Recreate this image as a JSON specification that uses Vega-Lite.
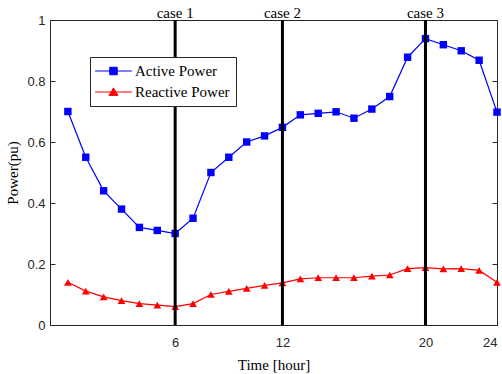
{
  "$schema": "https://vega.github.io/schema/vega-lite/v6.json",
  "autosize": "none",
  "width": 447,
  "height": 305,
  "padding": {"left": 50, "top": 20, "right": 5, "bottom": 49},
  "background": "white",
  "config": {
    "view": {"stroke": "#262626", "strokeWidth": 1},
    "axis": {
      "grid": false,
      "domainColor": "#262626",
      "tickColor": "#262626",
      "labelFont": "Liberation Sans, Arial, sans-serif",
      "labelFontSize": 13,
      "labelColor": "#262626",
      "titleFont": "Liberation Serif, Times New Roman, serif",
      "titleFontSize": 15,
      "titleFontWeight": "normal",
      "titleColor": "black"
    }
  },
  "datasets": {
    "power": [
      {"hour": 0, "series": "Active Power", "value": 0.70},
      {"hour": 1, "series": "Active Power", "value": 0.55},
      {"hour": 2, "series": "Active Power", "value": 0.44},
      {"hour": 3, "series": "Active Power", "value": 0.38},
      {"hour": 4, "series": "Active Power", "value": 0.32},
      {"hour": 5, "series": "Active Power", "value": 0.31},
      {"hour": 6, "series": "Active Power", "value": 0.30},
      {"hour": 7, "series": "Active Power", "value": 0.35},
      {"hour": 8, "series": "Active Power", "value": 0.50},
      {"hour": 9, "series": "Active Power", "value": 0.55},
      {"hour": 10, "series": "Active Power", "value": 0.60},
      {"hour": 11, "series": "Active Power", "value": 0.62},
      {"hour": 12, "series": "Active Power", "value": 0.648},
      {"hour": 13, "series": "Active Power", "value": 0.689},
      {"hour": 14, "series": "Active Power", "value": 0.694},
      {"hour": 15, "series": "Active Power", "value": 0.699},
      {"hour": 16, "series": "Active Power", "value": 0.678},
      {"hour": 17, "series": "Active Power", "value": 0.708},
      {"hour": 18, "series": "Active Power", "value": 0.749},
      {"hour": 19, "series": "Active Power", "value": 0.878},
      {"hour": 20, "series": "Active Power", "value": 0.939},
      {"hour": 21, "series": "Active Power", "value": 0.919},
      {"hour": 22, "series": "Active Power", "value": 0.899},
      {"hour": 23, "series": "Active Power", "value": 0.868},
      {"hour": 24, "series": "Active Power", "value": 0.698},
      {"hour": 0, "series": "Reactive Power", "value": 0.14},
      {"hour": 1, "series": "Reactive Power", "value": 0.111},
      {"hour": 2, "series": "Reactive Power", "value": 0.092},
      {"hour": 3, "series": "Reactive Power", "value": 0.08},
      {"hour": 4, "series": "Reactive Power", "value": 0.07},
      {"hour": 5, "series": "Reactive Power", "value": 0.065},
      {"hour": 6, "series": "Reactive Power", "value": 0.06},
      {"hour": 7, "series": "Reactive Power", "value": 0.07},
      {"hour": 8, "series": "Reactive Power", "value": 0.10},
      {"hour": 9, "series": "Reactive Power", "value": 0.11},
      {"hour": 10, "series": "Reactive Power", "value": 0.12},
      {"hour": 11, "series": "Reactive Power", "value": 0.13},
      {"hour": 12, "series": "Reactive Power", "value": 0.138},
      {"hour": 13, "series": "Reactive Power", "value": 0.151},
      {"hour": 14, "series": "Reactive Power", "value": 0.155},
      {"hour": 15, "series": "Reactive Power", "value": 0.155},
      {"hour": 16, "series": "Reactive Power", "value": 0.155},
      {"hour": 17, "series": "Reactive Power", "value": 0.16},
      {"hour": 18, "series": "Reactive Power", "value": 0.164},
      {"hour": 19, "series": "Reactive Power", "value": 0.185},
      {"hour": 20, "series": "Reactive Power", "value": 0.188},
      {"hour": 21, "series": "Reactive Power", "value": 0.184},
      {"hour": 22, "series": "Reactive Power", "value": 0.185},
      {"hour": 23, "series": "Reactive Power", "value": 0.179},
      {"hour": 24, "series": "Reactive Power", "value": 0.14}
    ],
    "cases": [
      {"hour": 6, "label": "case 1"},
      {"hour": 12, "label": "case 2"},
      {"hour": 20, "label": "case 3"}
    ]
  },
  "resolve": {"axis": {"y": "independent"}},
  "layer": [
    {
      "data": {"name": "power"},
      "mark": {"type": "line", "strokeWidth": 1.2},
      "encoding": {
        "x": {
          "field": "hour", "type": "quantitative",
          "scale": {"domain": [-1, 24], "nice": false, "zero": false},
          "axis": {"values": [6, 12, 20, 24], "title": "Time [hour]", "tickSize": -5, "labelPadding": 16, "titlePadding": 8}
        },
        "y": {
          "field": "value", "type": "quantitative",
          "scale": {"domain": [0, 1], "nice": false},
          "axis": {"values": [0, 0.2, 0.4, 0.6, 0.8, 1], "format": "~g", "title": "Power(pu)", "tickSize": -5, "labelPadding": 10, "titlePadding": 6}
        },
        "color": {
          "field": "series", "type": "nominal",
          "scale": {"domain": ["Active Power", "Reactive Power"], "range": ["#0000FF", "#FF0000"]},
          "legend": {
            "orient": "none", "legendX": 40, "legendY": 37,
            "title": null,
            "strokeColor": "#262626", "fillColor": "white",
            "padding": 6,
            "labelFont": "Liberation Serif, Times New Roman, serif", "labelFontSize": 15, "labelColor": "black",
            "symbolSize": 225, "rowPadding": 5,
            "symbolOffset": 9.5, "labelOffset": 13.5,
            "encode": {
              "symbols": {
                "update": {
                  "shape": {"signal": "datum.value === 'Active Power' ? 'M-2.45,0H2.45M-0.5,-0.5H0.5V0.5H-0.5Z' : 'M-2.45,0H2.45M0,-0.55L0.6,0.45L-0.6,0.45Z'"},
                  "fill": {"signal": "datum.value === 'Active Power' ? '#0000FF' : '#FF0000'"},
                  "stroke": {"signal": "datum.value === 'Active Power' ? '#0000FF' : '#FF0000'"},
                  "strokeWidth": {"value": 1},
                  "opacity": {"value": 1}
                }
              }
            }
          }
        }
      }
    },
    {
      "data": {"name": "power"},
      "transform": [{"filter": "datum.series === 'Active Power'"}],
      "mark": {"type": "point", "filled": true, "opacity": 1, "size": 55, "shape": "square", "color": "#0000FF"},
      "encoding": {
        "x": {"field": "hour", "type": "quantitative"},
        "y": {"field": "value", "type": "quantitative", "axis": {"orient": "right", "labels": false, "title": null, "domain": false, "tickSize": -5, "values": [0, 0.2, 0.4, 0.6, 0.8, 1]}}
      }
    },
    {
      "data": {"name": "power"},
      "transform": [{"filter": "datum.series === 'Reactive Power'"}],
      "mark": {"type": "point", "filled": true, "opacity": 1, "size": 60, "shape": "triangle-up", "color": "#FF0000"},
      "encoding": {
        "x": {"field": "hour", "type": "quantitative"},
        "y": {"field": "value", "type": "quantitative", "axis": null}
      }
    },
    {
      "data": {"name": "cases"},
      "mark": {"type": "rule", "color": "black", "strokeWidth": 3},
      "encoding": {
        "x": {"field": "hour", "type": "quantitative"}
      }
    },
    {
      "data": {"name": "cases"},
      "mark": {"type": "text", "font": "Liberation Serif, Times New Roman, serif", "fontSize": 15, "color": "black", "baseline": "alphabetic", "dy": -2, "align": "center"},
      "encoding": {
        "x": {"field": "hour", "type": "quantitative"},
        "y": {"datum": 1, "type": "quantitative", "axis": null},
        "text": {"field": "label"}
      }
    }
  ]
}
